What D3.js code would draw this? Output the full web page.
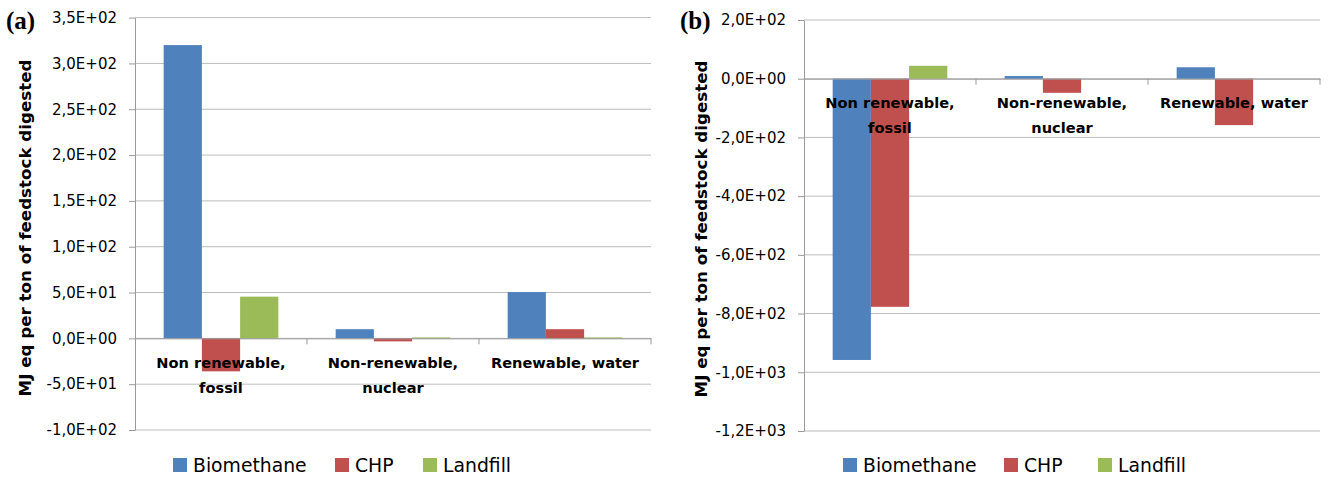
<!DOCTYPE html>
<html>
<head>
<meta charset="utf-8">
<script src="https://cdn.jsdelivr.net/npm/d3@7"></script>
<style>
  body { margin: 0; background: #fff; }
  text { font-family: "DejaVu Sans", sans-serif; fill: #000; }
</style>
</head>
<body>
<div id="chart"></div>
<script>
/* Two grouped bar charts, panels (a) and (b) */

const categories = ["Non renewable, fossil", "Non-renewable, nuclear", "Renewable, water"];
const categoryLines = [["Non renewable,", "fossil"], ["Non-renewable,", "nuclear"], ["Renewable, water"]];
const series = ["Biomethane", "CHP", "Landfill"];
const colors = ["#4f81bd", "#c0504d", "#9bbb59"];

// panel (a) values, per series, in category order
const biomethaneA = [320, 10, 50.5];
const chpA = [-36, -3.3, 10];
const landfillA = [45.5, 1, 1];
const ticksA = [-100, -50, 0, 50, 100, 150, 200, 250, 300, 350];

// panel (b) values
const biomethaneB = [-958, 9, 39];
const chpB = [-777, -48, -158];
const landfillB = [44, 0, 0];
const ticksB = [-1200, -1000, -800, -600, -400, -200, 0, 200];

const width = 1333, height = 477;

const svg = d3.select("#chart")
    .append("svg")
    .attr("width", width)
    .attr("height", height);

// Excel style "3,5E+02" (plain hyphen for negatives)
function sci(v) {
    if (v === 0) return "0,0E+00";
    let s = d3.format(".1e")(Math.abs(v));   // e.g. "3.5e+2"
    let [m, e] = s.split("e");
    let sign = e[0] === "-" ? "-" : "+";
    let digits = e.replace(/[+-]/, "").padStart(2, "0");
    return (v < 0 ? "-" : "") + m.replace(".", ",") + "E" + sign + digits;
}

function panel(opts) {
    const { left, right, top, bottom, vals, ticks, label, titleX, labelX, labelY, legendX } = opts;
    const g = svg.append("g");

    const y = d3.scaleLinear()
        .domain(d3.extent(ticks))
        .range([bottom, top]);

    const x0 = d3.scaleBand()
        .domain(categories)
        .range([left, right]);

    const x1 = d3.scaleBand()
        .domain(series)
        .range([0, x0.bandwidth()])
        .paddingInner(0)
        .paddingOuter(0.75);

    // gridlines
    g.append("g")
        .selectAll("line")
        .data(ticks)
        .join("line")
        .attr("x1", left)
        .attr("x2", right)
        .attr("y1", d => y(d))
        .attr("y2", d => y(d))
        .attr("stroke", "#bcbcbc")
        .attr("stroke-width", 1);

    // y axis
    const ax = g.append("g")
        .attr("transform", `translate(${left},0)`)
        .call(d3.axisLeft(y).tickValues(ticks).tickFormat(sci).tickSize(6).tickPadding(12).tickSizeOuter(0));
    ax.select(".domain").attr("stroke", "#9a9a9a");
    ax.selectAll(".tick line").attr("stroke", "#9a9a9a");
    ax.selectAll(".tick text")
        .style("font-size", "15px")
        .style("font-family", "'DejaVu Sans', sans-serif")
        .attr("fill", "#000");

    // bars
    const rows = categories.map((c, i) => ({ cat: c, vals: series.map((s, j) => ({ s: s, v: vals[j][i], k: j })) }));
    g.append("g")
        .selectAll("g")
        .data(rows)
        .join("g")
        .attr("transform", d => `translate(${x0(d.cat)},0)`)
        .selectAll("rect")
        .data(d => d.vals)
        .join("rect")
        .attr("x", d => x1(d.s))
        .attr("width", x1.bandwidth())
        .attr("y", d => Math.min(y(d.v), y(0)))
        .attr("height", d => Math.abs(y(d.v) - y(0)))
        .attr("fill", d => colors[d.k]);

    // category axis at zero
    const xa = g.append("g")
        .attr("transform", `translate(0,${y(0)})`)
        .call(d3.axisBottom(x0).tickSize(0).tickFormat(""));
    xa.select(".domain").attr("stroke", "#9a9a9a");
    g.append("g")
        .selectAll("line")
        .data(categories.map((c, i) => i + 1))
        .join("line")
        .attr("x1", d => left + d * x0.step())
        .attr("x2", d => left + d * x0.step())
        .attr("y1", y(0))
        .attr("y2", y(0) + 6)
        .attr("stroke", "#9a9a9a");

    // category labels
    g.append("g")
        .selectAll("text")
        .data(categories)
        .join("text")
        .attr("text-anchor", "middle")
        .style("font-size", "14.6px")
        .style("font-weight", "bold")
        .attr("x", d => x0(d) + x0.bandwidth() / 2)
        .attr("y", y(0) + 29.5)
        .selectAll("tspan")
        .data((d, i) => categoryLines[i])
        .join("tspan")
        .attr("x", function () { return this.parentNode.getAttribute("x"); })
        .attr("dy", (d, i) => i === 0 ? 0 : 25)
        .text(d => d);

    // y axis title
    g.append("text")
        .attr("transform", `translate(${labelX},${labelY}) rotate(-90)`)
        .attr("text-anchor", "middle")
        .style("font-size", "16.7px")
        .style("font-weight", "bold")
        .text("MJ eq per ton of feedstock digested");

    // panel tag
    g.append("text")
        .attr("x", titleX)
        .attr("y", 29)
        .style("font-family", "'Liberation Serif', 'DejaVu Serif', serif")
        .style("font-size", "25px")
        .style("font-weight", "bold")
        .text(label);

    // legend
    const lg = g.append("g")
        .selectAll("g")
        .data(series)
        .join("g")
        .attr("transform", (d, i) => `translate(${legendX[i]},458)`);
    lg.append("rect")
        .attr("width", 14)
        .attr("height", 14)
        .attr("fill", (d, i) => colors[i]);
    lg.append("text")
        .attr("x", 20)
        .attr("y", 13.5)
        .style("font-size", "18.8px")
        .text(d => d);
}

panel({
    left: 135, right: 651, top: 17.6, bottom: 430,
    vals: [biomethaneA, chpA, landfillA], ticks: ticksA,
    label: "(a)", titleX: 6, labelX: 31, labelY: 228,
    legendX: [173, 335, 423]
});

panel({
    left: 804, right: 1320, top: 20, bottom: 431,
    vals: [biomethaneB, chpB, landfillB], ticks: ticksB,
    label: "(b)", titleX: 680, labelX: 707, labelY: 229,
    legendX: [843, 1004, 1098]
});
</script>
</body>
</html>
